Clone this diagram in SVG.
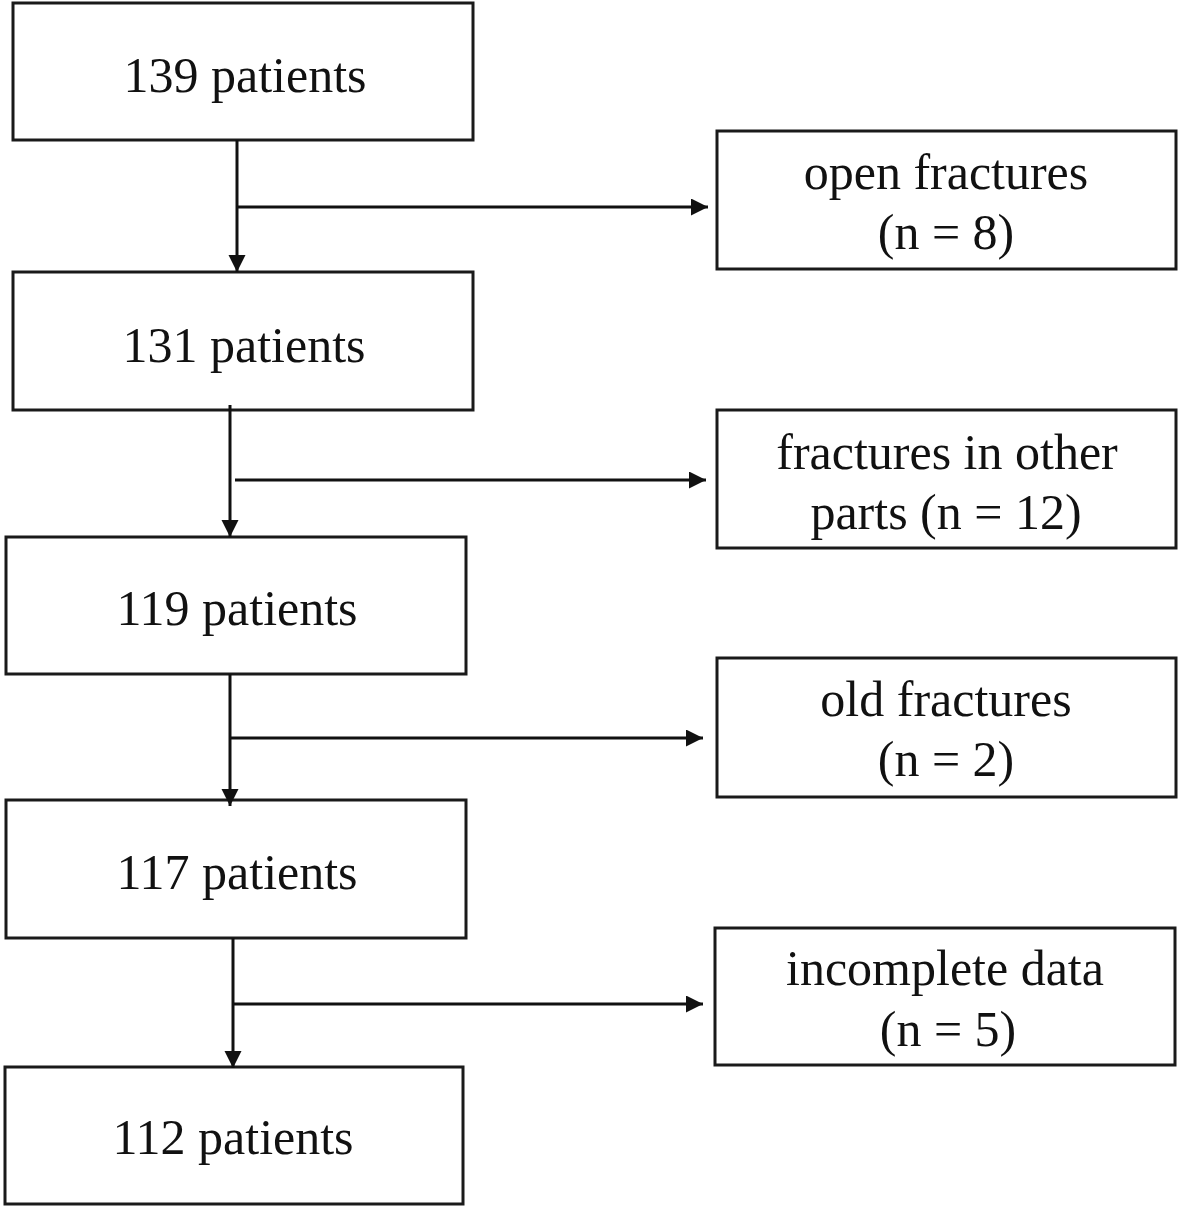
<svg xmlns="http://www.w3.org/2000/svg" width="1181" height="1209" viewBox="0 0 1181 1209">
<style>
.box{fill:#fff;stroke:#1a1a1a;stroke-width:3}
.t{font-family:"Liberation Serif","Times New Roman",serif;font-size:50px;fill:#111;text-anchor:middle}
.c{stroke:#111;stroke-width:3;fill:none}
</style>
<defs>
<marker id="ah" markerUnits="userSpaceOnUse" markerWidth="18" markerHeight="18" refX="17" refY="8.5" orient="auto">
<path d="M0,0 L17,8.5 L0,17 Z" fill="#111"/>
</marker>
</defs>
<rect width="1181" height="1209" fill="#fff"/>
<g id="n1"><rect class="box" x="13" y="3" width="460" height="137"/><text class="t" x="245" y="92">139 patients</text></g>
<g id="n2"><rect class="box" x="13" y="272" width="460" height="138"/><text class="t" x="244" y="362">131 patients</text></g>
<g id="n3"><rect class="box" x="6" y="537" width="460" height="137"/><text class="t" x="237" y="625">119 patients</text></g>
<g id="n4"><rect class="box" x="6" y="800" width="460" height="138"/><text class="t" x="237" y="889">117 patients</text></g>
<g id="n5"><rect class="box" x="5" y="1067" width="458" height="137"/><text class="t" x="233" y="1154">112 patients</text></g>
<g id="r1"><rect class="box" x="717" y="131" width="459" height="138"/><text class="t" x="946" y="189">open fractures</text><text class="t" x="946" y="249">(n = 8)</text></g>
<g id="r2"><rect class="box" x="717" y="410" width="459" height="138"/><text class="t" x="947" y="469">fractures in other</text><text class="t" x="946" y="529">parts (n = 12)</text></g>
<g id="r3"><rect class="box" x="717" y="658" width="459" height="139"/><text class="t" x="946" y="716">old fractures</text><text class="t" x="946" y="776">(n = 2)</text></g>
<g id="r4"><rect class="box" x="715" y="928" width="460" height="137"/><text class="t" x="945" y="985">incomplete data</text><text class="t" x="948" y="1046">(n = 5)</text></g>
<g id="connectors">
<line class="c" x1="237" y1="140" x2="237" y2="272" marker-end="url(#ah)"/>
<line class="c" x1="237" y1="207" x2="708" y2="207" marker-end="url(#ah)"/>
<line class="c" x1="230" y1="405" x2="230" y2="537" marker-end="url(#ah)"/>
<line class="c" x1="235" y1="480" x2="706" y2="480" marker-end="url(#ah)"/>
<line class="c" x1="230" y1="674" x2="230" y2="806" marker-end="url(#ah)"/>
<line class="c" x1="230" y1="738" x2="703" y2="738" marker-end="url(#ah)"/>
<line class="c" x1="233" y1="938" x2="233" y2="1068" marker-end="url(#ah)"/>
<line class="c" x1="233" y1="1004" x2="703" y2="1004" marker-end="url(#ah)"/>
</g>
</svg>
